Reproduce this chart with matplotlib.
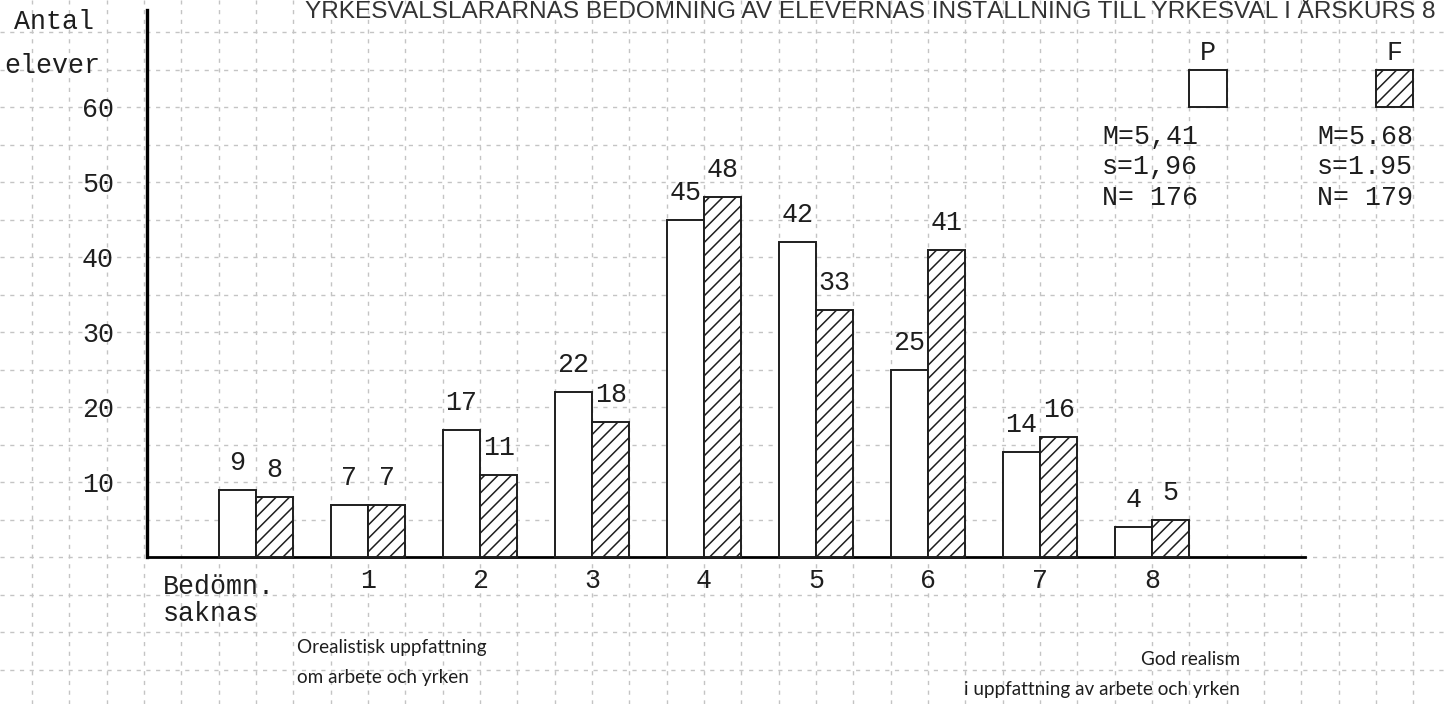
import numpy as np
import matplotlib.pyplot as plt
from matplotlib.patches import Rectangle
from matplotlib.ticker import MultipleLocator

# Data (antal elever per bedömning)
categories = ["Bedömn.\nsaknas", "1", "2", "3", "4", "5", "6", "7", "8"]
p_counts = [9, 7, 17, 22, 45, 42, 25, 14, 4]
f_counts = [8, 7, 11, 18, 48, 33, 41, 16, 5]
y_ticks = [10, 20, 30, 40, 50, 60]
p_stats = ["M=5,41", "s=1,96", "N= 176"]
f_stats = ["M=5.68", "s=1.95", "N= 179"]
title = "YRKESVALSLÄRARNAS BEDÖMNING AV ELEVERNAS INSTÄLLNING TILL YRKESVAL I ÅRSKURS 8"

plt.rcParams['hatch.linewidth'] = 0.55
plt.rcParams['hatch.color'] = '#2a2a2a'
mono = 'Liberation Mono'
ink = '#1e1e1e'
fs = 9.6
hatch = '/////'

fig = plt.figure(figsize=(7.24, 3.52), dpi=200)
ax = fig.add_axes([0, 0, 1, 1])
ax.set_xlim(-2.286, 10.643)
ax.set_ylim(-19.6, 74.27)

# rutpapper
ax.xaxis.set_minor_locator(MultipleLocator(1 / 3))
ax.yaxis.set_minor_locator(MultipleLocator(5))
ax.grid(which='both', color='#c4c4c4', lw=0.5, ls=(0, (3, 4)), zorder=0)

x = np.arange(len(categories))
w = 1 / 3
p_bars = ax.bar(x - w / 2, p_counts, w, color='white', edgecolor=ink, linewidth=0.7, zorder=3)
f_bars = ax.bar(x + w / 2, f_counts, w, color='white', edgecolor=ink, linewidth=0.7,
                hatch=hatch, zorder=3)
ax.bar_label(p_bars, padding=5, fontsize=fs, family=mono, color=ink)
ax.bar_label(f_bars, padding=5, fontsize=fs, family=mono, color=ink)

# axlar
for s in ['top', 'right']:
    ax.spines[s].set_visible(False)
ax.spines['left'].set_position(('data', -0.97))
ax.spines['left'].set_bounds(0, 73)
ax.spines['left'].set_linewidth(1.2)
ax.spines['bottom'].set_position(('data', 0))
ax.spines['bottom'].set_bounds(-0.97, 9.37)
ax.spines['bottom'].set_linewidth(1.0)

ax.set_yticks(y_ticks)
ax.set_yticklabels([str(v) for v in y_ticks], fontsize=fs, family=mono, color=ink)
ax.set_xticks(x[1:])
ax.set_xticklabels(categories[1:], fontsize=fs, family=mono, color=ink)
ax.tick_params(axis='y', which='both', length=0, pad=12)
ax.tick_params(axis='x', which='both', length=0, pad=4)

ax.text(-0.83, -2.2, categories[0], ha='left', va='top', fontsize=fs, family=mono,
        color=ink, linespacing=1.05)
ax.text(-1.45, 71.3, "Antal", ha='right', va='center', fontsize=fs, family=mono, color=ink)
ax.text(-1.393, 65.5, "elever", ha='right', va='center', fontsize=fs, family=mono, color=ink)

# förklaring
ax.add_patch(Rectangle((8 + 1 / 3, 60), 1 / 3, 5, facecolor='white', edgecolor=ink, lw=0.7, zorder=3))
ax.add_patch(Rectangle((10, 60), 1 / 3, 5, facecolor='white', edgecolor=ink, lw=0.7,
                       hatch=hatch, zorder=3))
ax.text(8.5, 67.2, "P", ha='center', va='center', fontsize=fs, family=mono, color=ink)
ax.text(10 + 1 / 6, 67.2, "F", ha='center', va='center', fontsize=fs, family=mono, color=ink)
for i, (ps, fstat) in enumerate(zip(p_stats, f_stats)):
    yy = 56.0 - i * 4.05
    ax.text(7.554, yy, ps, ha='left', va='center', fontsize=fs, family=mono, color=ink)
    ax.text(9.473, yy, fstat, ha='left', va='center', fontsize=fs, family=mono, color=ink)

# skalans ändpunkter
ax.text(0.366, -14.1, "Orealistisk uppfattning\nom arbete och yrken", ha='left', va='center',
        fontsize=6.8, family='Lato', color=ink, linespacing=1.9)
ax.text(8.786, -15.7, "God realism\ni uppfattning av arbete och yrken", ha='right', va='center',
        fontsize=6.8, family='Lato', color=ink, linespacing=1.9, multialignment='right')

fig.text(305 / 1448, 1 - 12 / 704, title, ha='left', va='center', fontsize=8.8,
         family='Liberation Sans', color='#333333')

fig.savefig('out.png', dpi=200)
